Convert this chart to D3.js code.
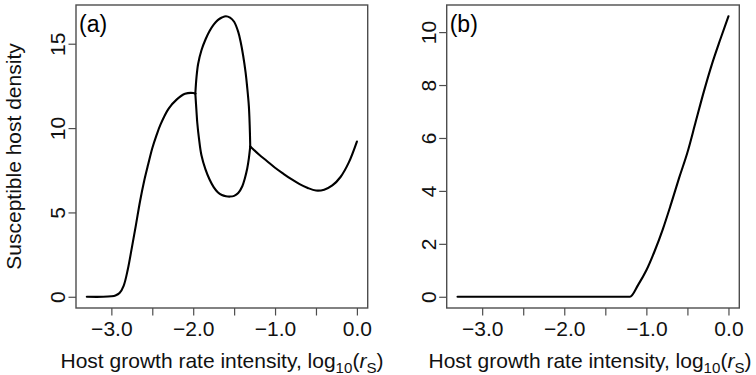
<!DOCTYPE html>
<html>
<head>
<meta charset="utf-8">
<script src="https://cdn.jsdelivr.net/npm/d3@7/dist/d3.min.js"></script>
<style>
  html, body { margin: 0; padding: 0; background: #fff; }
  svg { display: block; font-family: "Liberation Sans", Arial, Helvetica, sans-serif; }
</style>
</head>
<body>
<svg id="chart" width="756" height="375"></svg>
<script>
// ---------------- DATA ----------------
const xTicks = [-3, -2.5, -2, -1.5, -1, -0.5, 0];
const xTickLabels = ["\u22123.0", "", "\u22122.0", "", "\u22121.0", "", "0.0"];
const yTicksA = [0, 5, 10, 15];
const yTicksB = [0, 2, 4, 6, 8, 10];
const panelLabels = ["(a)", "(b)"];
const yTitle = "Susceptible host density";

// Panel (a): left stable branch (before bifurcation)
const aLeftX = [-3.3, -3.1, -3.0, -2.95, -2.9, -2.85, -2.8, -2.75, -2.7, -2.65, -2.6, -2.55, -2.5, -2.45, -2.4, -2.3, -2.2, -2.1, -2.0, -1.974];
const aLeftY = [0, 0, 0.03, 0.08, 0.22, 0.65, 1.6, 2.9, 4.25, 5.65, 6.85, 7.85, 8.8, 9.55, 10.2, 11.15, 11.7, 12.03, 12.08, 12.04];
// Panel (a): upper branch of the loop
const aUpX = [-1.974, -1.96, -1.94, -1.9, -1.85, -1.8, -1.75, -1.7, -1.65, -1.6, -1.55, -1.5, -1.45, -1.42, -1.39, -1.36, -1.34, -1.32, -1.31, -1.303];
const aUpY = [12.04, 13.0, 13.8, 14.6, 15.25, 15.75, 16.13, 16.4, 16.55, 16.63, 16.55, 16.3, 15.7, 15.1, 14.3, 13.3, 12.4, 11.3, 10.2, 8.91];
// Panel (a): lower branch of the loop
const aLowX = [-1.974, -1.96, -1.95, -1.93, -1.9, -1.85, -1.8, -1.75, -1.7, -1.65, -1.6, -1.55, -1.5, -1.45, -1.4, -1.37, -1.34, -1.32, -1.303];
const aLowY = [12.04, 11.0, 10.3, 9.4, 8.4, 7.55, 6.95, 6.5, 6.2, 6.03, 5.96, 5.94, 5.98, 6.15, 6.55, 7.0, 7.6, 8.2, 8.91];
// Panel (a): right stable branch (after the loop)
const aRightX = [-1.303, -1.2, -1.1, -1.0, -0.9, -0.8, -0.7, -0.6, -0.5, -0.4, -0.3, -0.2, -0.1, 0.0];
const aRightY = [8.91, 8.45, 8.05, 7.65, 7.3, 6.97, 6.68, 6.45, 6.3, 6.35, 6.6, 7.1, 7.95, 9.2];

// Panel (b)
const bX = [-3.3, -2.5, -2.0, -1.5, -1.2, -1.1, -1.0, -0.9, -0.8, -0.7, -0.6, -0.5, -0.4, -0.3, -0.2, -0.1, 0.0];
const bY = [0, 0, 0, 0, 0, 0.45, 1.0, 1.72, 2.55, 3.5, 4.5, 5.45, 6.6, 7.75, 8.8, 9.72, 10.6];

// ---------------- DRAW ----------------
const svg = d3.select("#chart");
const FONT = 21;
const frameColor = "#4d4d4d";

function zip(xs, ys) { return xs.map((x, i) => [x, ys[i]]); }

function panel(opts) {
  const { left, right, top, bottom, xDomain, yDomain, yTicks, series, label, showYTitle, id, titleX, curve } = opts;
  const x = d3.scaleLinear().domain(xDomain).range([left, right]);
  const y = d3.scaleLinear().domain(yDomain).range([bottom, top]);
  const g = svg.append("g");

  g.append("clipPath").attr("id", "clip" + id)
    .append("rect").attr("x", left).attr("y", top).attr("width", right - left).attr("height", bottom - top);

  // x axis
  const xa = g.append("g").attr("transform", `translate(0,${bottom})`)
    .call(d3.axisBottom(x).tickValues(xTicks)
      .tickFormat((d, i) => xTickLabels[i]).tickSizeInner(7.5).tickSizeOuter(0).tickPadding(6));
  xa.select(".domain").remove();
  xa.selectAll(".tick line").attr("stroke", frameColor).attr("stroke-width", 1.2);
  xa.selectAll(".tick text").attr("font-size", FONT).attr("fill", "#111")
    .attr("font-family", "'Liberation Sans', Arial, sans-serif");

  // y axis
  const ya = g.append("g").attr("transform", `translate(${left},0)`)
    .call(d3.axisLeft(y).tickValues(yTicks).tickFormat(d3.format("d"))
      .tickSizeInner(7.5).tickSizeOuter(0));
  ya.select(".domain").remove();
  ya.selectAll(".tick line").attr("stroke", frameColor).attr("stroke-width", 1.2);
  ya.selectAll(".tick text")
    .attr("font-size", FONT).attr("fill", "#111")
    .attr("font-family", "'Liberation Sans', Arial, sans-serif")
    .attr("x", null).attr("dy", null)
    .attr("text-anchor", "middle")
    .attr("transform", "translate(-11,0) rotate(-90)");

  // frame
  g.append("rect").attr("x", left).attr("y", top)
    .attr("width", right - left).attr("height", bottom - top)
    .attr("fill", "none").attr("stroke", frameColor).attr("stroke-width", 1.4);

  // curves
  const line = d3.line().x(d => x(d[0])).y(d => y(d[1])).curve(curve);
  const cg = g.append("g").attr("clip-path", `url(#clip${id})`);
  series.forEach(s => {
    cg.append("path").datum(s).attr("d", line)
      .attr("fill", "none").attr("stroke", "#000").attr("stroke-width", 2.1)
      .attr("stroke-linejoin", "round").attr("stroke-linecap", "round");
  });

  // panel label
  g.append("text").attr("x", left + 3).attr("y", top + 27)
    .attr("font-size", FONT + 2).attr("fill", "#000").text(label);

  // x title
  const t = g.append("text").attr("x", titleX).attr("y", 368).attr("text-anchor", "middle")
    .attr("font-size", FONT).attr("fill", "#111");
  t.append("tspan").text("Host growth rate intensity, log");
  t.append("tspan").attr("font-size", FONT * 0.72).attr("dy", 5).text("10");
  t.append("tspan").attr("dy", -5).text("(");
  t.append("tspan").attr("font-style", "italic").text("r");
  t.append("tspan").attr("font-size", FONT * 0.72).attr("dy", 5).text("S");
  t.append("tspan").attr("dy", -5).text(")");

  if (showYTitle) {
    svg.append("text")
      .attr("transform", `translate(${left - 55},${(top + bottom) / 2}) rotate(-90)`)
      .attr("text-anchor", "middle").attr("font-size", FONT).attr("fill", "#111")
      .text(yTitle);
  }
}

const xDom = [-3.3 - 0.04 * 3.3, 0 + 0.04 * 3.3];
const maxA = d3.max(aUpY), maxB = d3.max(bY);

panel({
  id: "a", left: 76, right: 367.7, top: 5, bottom: 308, titleX: 222,
  xDomain: xDom, yDomain: [-0.04 * maxA, maxA * 1.04], yTicks: yTicksA,
  curve: d3.curveCatmullRom.alpha(0.5),
  series: [zip(aLeftX, aLeftY), zip(aUpX, aUpY), zip(aLowX, aLowY), zip(aRightX, aRightY)],
  label: panelLabels[0], showYTitle: true
});
panel({
  id: "b", left: 446.7, right: 739.3, top: 5, bottom: 308, titleX: 590,
  xDomain: xDom, yDomain: [-0.04 * maxB, maxB * 1.04], yTicks: yTicksB,
  curve: d3.curveMonotoneX,
  series: [zip(bX, bY)],
  label: panelLabels[1], showYTitle: false
});
</script>
</body>
</html>
